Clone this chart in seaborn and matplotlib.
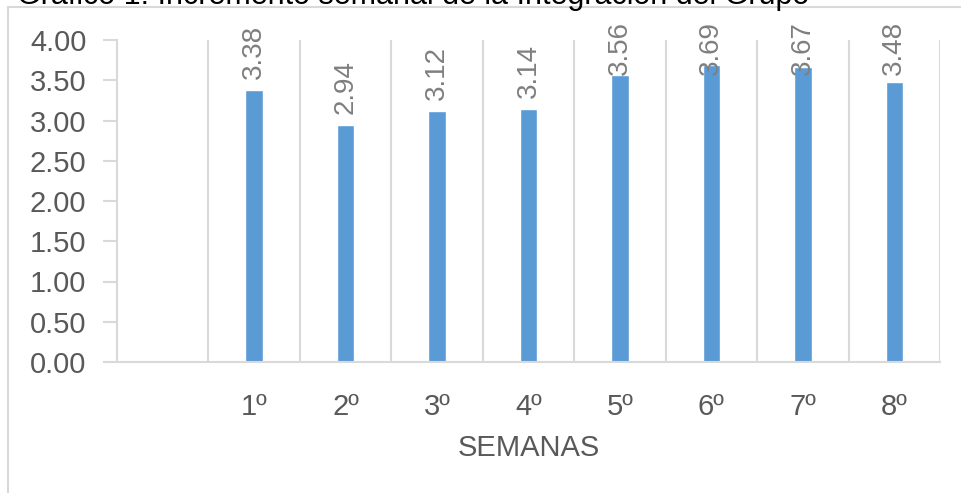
import numpy as np
import pandas as pd
import matplotlib
matplotlib.use("Agg")
import matplotlib.pyplot as plt
import seaborn as sns
from matplotlib.patches import Rectangle

weeks = ["", "1º", "2º", "3º", "4º", "5º", "6º", "7º", "8º"]
scores = [np.nan, 3.38, 2.94, 3.12, 3.14, 3.56, 3.69, 3.67, 3.48]
yticks = [0.0, 0.5, 1.0, 1.5, 2.0, 2.5, 3.0, 3.5, 4.0]
title = "Gráfico 1. Incremento semanal de la Integración del Grupo"
xlabel = "SEMANAS"

sns.set_theme(style="white")
plt.rcParams["font.family"] = ["Liberation Sans", "DejaVu Sans"]

W, H = 961, 493
fig = plt.figure(figsize=(W / 100, H / 100), dpi=100)
ax = fig.add_axes([117 / W, 1 - 362 / H, (940 - 117) / W, (362 - 40) / H])

df = pd.DataFrame({"semana": weeks, "valor": scores})
sns.barplot(data=df, x="semana", y="valor", order=weeks, color="#5B9BD5",
            saturation=1, width=0.19, ax=ax)

n = len(weeks)
ax.set_xlim(-0.5, n - 0.5)
ax.set_ylim(0, 4.0)
ax.set_yticks(yticks)
ax.set_yticklabels([f"{v:.2f}" for v in yticks])

# category boundary gridlines
ax.set_xticks(np.arange(0.5, n, 1.0), minor=True)
ax.grid(True, which="minor", axis="x", color="#D9D9D9", linewidth=1.5)
ax.grid(False, which="major")
ax.set_axisbelow(True)

for s in ["top", "right"]:
    ax.spines[s].set_visible(False)
for s in ["left", "bottom"]:
    ax.spines[s].set_color("#D9D9D9")
    ax.spines[s].set_linewidth(1.5)

ax.tick_params(axis="y", which="major", length=10, width=1.5, color="#D9D9D9",
               labelsize=21, labelcolor="#595959", pad=12, left=True)
ax.tick_params(axis="x", which="major", length=0, labelsize=21,
               labelcolor="#595959", pad=22)
ax.tick_params(axis="x", which="minor", length=0)

ax.set_xlabel(xlabel, fontsize=21, color="#595959", labelpad=10)
ax.set_ylabel("")

# data labels (rotated), kept inside the plot area
for i, v in enumerate(scores):
    if np.isnan(v):
        continue
    ypos = min(v + 0.14, 3.56)
    ax.text(i, ypos, f"{v:.2f}", rotation=90, ha="center", va="bottom",
            fontsize=20, color="#7F7F7F", clip_on=False)

# chart border (partially visible)
fig.patches.append(Rectangle((8 / W, -0.1), 1.2, 1 - 7 / H + 0.1,
                             transform=fig.transFigure, fill=False,
                             edgecolor="#D9D9D9", linewidth=1.5))

# title, cut off at top of image as in the reference
fig.text(17 / W, 1 - 4 / H, title, fontsize=22, color="black",
         ha="left", va="baseline")

fig.savefig("out.png", dpi=100)
